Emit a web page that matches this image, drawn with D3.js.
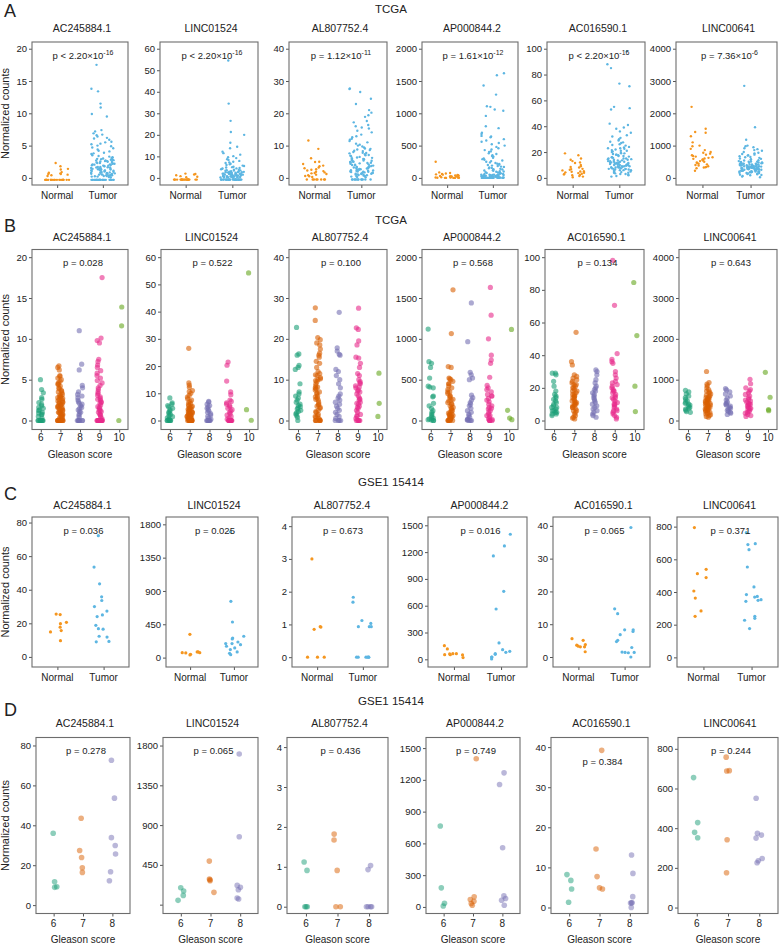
<!DOCTYPE html>
<html><head><meta charset="utf-8">
<script src="https://cdn.jsdelivr.net/npm/d3@7"></script>
<style>body{margin:0;background:#fff}text{font-family:"Liberation Sans",Arial,sans-serif;fill:#222}</style>
</head><body><svg id="c" width="783" height="944"></svg>
<script>
const genes = ["AC245884.1","LINC01524","AL807752.4","AP000844.2","AC016590.1","LINC00641"];
const groupsNT = ["Normal","Tumor"];
const gleasonTCGA = ["6","7","8","9","10"];
const gleasonGSE = ["6","7","8"];
const rowTitles = ["TCGA","TCGA","GSE1 15414","GSE1 15414"];
const panelLetters = ["A","B","C","D"];
const pA = [["<","2.20","-16"],["<","2.20","-16"],["=","1.12","-11"],["=","1.61","-12"],["<","2.20","-16"],["=","7.36","-6"]];
const pB = ["0.028","0.522","0.100","0.568","0.134","0.643"];
const pC = ["0.036","0.025","0.673","0.016","0.065","0.371"];
const pD = ["0.278","0.065","0.436","0.749","0.384","0.244"];
const ticksTCGA = [[0,5,10,15,20],[0,10,20,30,40,50,60],[0,10,20,30,40],[0,500,1000,1500,2000],[0,20,40,60,80,100],[0,1000,2000,3000,4000]];
const ticksGSE = [[0,20,40,60,80],[0,450,900,1350,1800],[0,1,2,3,4],[0,300,600,900,1200,1500],[0,10,20,30,40],[0,200,400,600,800]];
const tickLabelsD2 = ["","450","900","1350","1800"];
const domainC = [[-6,83.3],[-127,1899],[-0.3,4.28],[-86,1593],[-3.05,42.7],[-59,859]];
const domainD = [[-4.2,84],[-100,1891],[-0.17,4.24],[-62,1600],[-1.5,42.4],[-30,857]];

// Row A: TCGA normal vs tumor
const tcgaNormal = [
 [2.3,1.8,1.4,1.3,0.9,0.8,0.7,0.6,0.6,0.5,0.4,0.3,-.3,-.3,-.3,-.3,-.3,-.3,-.3,-.3,-.3,-.3,-.3,-.3,-.3,-.3,-.3,-.3,-.3,-.3,-.3,-.3,-.3,-.3,-.3],
 [2.0,1.8,1.6,1.2,0.8,0.5,0.3,-.8,-.8,-.8,-.8,-.8,-.8,-.8,-.8,-.8,-.8,-.8,-.8,-.8,-.8,-.8,-.8,-.8,-.8,-.8,-.8,-.8,-.8,-.8,-.8],
 [11.6,9.0,6.1,5.0,4.9,4.3,3.8,3.6,3.2,3.0,2.7,2.5,2.3,2.1,1.9,1.7,1.5,1.4,1.2,1.0,0.8,0.6,0.5,0.3,-.5,-.5,-.5,-.5,-.5,-.5,-.5,-.5],
 [250,85,75,68,62,55,50,46,42,38,34,30,27,24,21,18,15,13,11,9,7,5,4,3,2,1,0,0,0,0],
 [19,17.5,15,14,13,12,11.5,10,9,8.5,8,7,6.8,6.3,5.8,5.2,5,4.8,4.3,4,3.7,3.2,3,2.7,2.3,2,1.5,1,0.5],
 [2200,1520,1420,1400,1290,1100,1000,980,900,860,800,780,750,720,700,680,660,640,620,600,590,570,560,540,520,500,480,460,440,420,400,380,360,340,330,320,300,220]
];
const tcgaTumor = [
 [17.5,13.8,13.4,11.5,10.9,9.9,9.5,7.4,7.2,6.9,6.7,6.6,6.4,6.2,6.1,5.9,5.6,5.5,5.3,5.2,5.0,4.9,4.7,4.6,4.4,4.2,4.1,3.9,3.8,3.7,3.5,3.4,3.3,3.2,3.1,3.0,2.95,2.9,2.8,2.75,2.7,2.6,2.55,2.5,2.45,2.4,2.3,2.25,2.2,2.1,2.05,2.0,1.95,1.9,1.85,1.8,1.7,1.65,1.6,1.55,1.5,1.45,1.4,1.35,1.3,1.25,1.2,1.15,1.1,1.05,1.0,0.95,0.9,0.85,0.8,0.75,0.7,0.65,0.6,0.55,0.5,0.45,0.4,0.35,0.3,0.25,0.2,0.15,0.1,2.6,2.3,1.9,1.6,1.2,0.9,0.6,0.4,2.8,2.1,1.4,0.8,0.3,3.1,2.7,1.7,1.1,0.7,0.2,0.5,1.3,2.2,-.3,-.3,-.3,-.3,-.3,-.3,-.3,-.3,-.3,-.3,-.3,-.3,-.3,-.3,-.3,-.3,-.3,-.3,-.3,-.3,-.3,-.3,-.3,-.3,-.3,-.3,-.3,-.3,-.3,-.3],
 [54.5,34.5,26.5,21.3,20.0,16.3,14.5,13.8,12.2,11.5,10.8,10.1,9.6,9.2,8.7,8.3,7.9,7.5,7.2,6.9,6.6,6.3,6.0,5.7,5.5,5.2,5.0,4.8,4.6,4.4,4.2,4.0,3.8,3.6,3.5,3.3,3.1,3.0,2.8,2.7,2.6,2.5,2.4,2.3,2.2,2.1,2.0,1.9,1.8,1.7,1.6,1.5,1.4,1.3,1.2,1.1,1.0,0.9,0.8,0.7,0.6,0.5,0.45,0.4,0.35,0.3,0.25,0.2,0.15,0.1,3.4,2.9,2.4,1.9,1.5,1.1,0.8,0.5,0.3,4.4,3.7,2.6,1.6,1.0,0.6,-.8,-.8,-.8,-.8,-.8,-.8,-.8,-.8,-.8,-.8,-.8,-.8,-.8,-.8,-.8,-.8,-.8,-.8,-.8,-.8,-.8,-.8,-.8,-.8,-.8,-.8,-.8,-.8,-.8,-.8,-.8,-.8,-.8,-.8,-.8],
 [27.7,27.5,26.6,24.5,22.9,21.0,20.2,19.4,18.9,17.6,17.2,16.4,16.0,15.6,15.3,14.6,14.1,13.4,12.9,12.6,12.1,11.8,11.4,11.0,10.6,10.3,10.0,9.7,9.4,9.1,8.8,8.6,8.3,8.0,7.8,7.6,7.3,7.1,6.9,6.7,6.5,6.3,6.1,5.9,5.7,5.5,5.3,5.1,4.9,4.7,4.5,4.4,4.2,4.0,3.9,3.7,3.6,3.4,3.3,3.1,3.0,2.9,2.7,2.6,2.5,2.4,2.3,2.2,2.1,2.0,1.9,1.8,1.7,1.6,1.5,1.4,1.3,1.2,1.1,1.0,0.9,0.8,0.7,0.6,0.5,0.4,0.3,0.2,8.4,7.0,5.8,4.8,3.8,2.8,1.9,1.0,6.2,5.0,3.5,2.4,1.3,9.0,4.1,2.0,7.7,5.4,3.2,1.6,4.6,2.5,-.5,-.5,-.5,-.5,-.5,-.5,-.5,-.5,-.5,-.5,-.5,-.5],
 [1620,1590,1430,1290,1110,1100,1060,1040,960,800,770,700,680,650,640,630,600,580,560,540,520,500,480,460,440,430,410,400,380,370,350,340,330,310,300,290,280,270,260,250,240,230,220,215,205,200,190,185,175,170,160,155,150,140,135,130,120,115,110,105,100,95,90,85,80,75,70,65,60,55,50,48,45,42,40,38,35,32,30,28,25,22,20,18,16,14,12,10,8,6,5,4,3,2,1,0,0,0,0,0,0,0,0,0,0,60,45,30,20,10,5,2,0,0,0,50,35,25,15,8,3,1,0,0,0,0,0,0],
 [98,88,85,73,71,55,54,53,42,41,39,38,36,35,33,32,31,30,29,28,27.5,27,26,25.5,25,24,23.5,23,22.5,22,21.5,21,20.5,20,19.5,19,18.5,18,17.5,17,16.5,16,15.5,15,14.5,14,13.5,13,12.5,12,11.5,11,10.5,10,9.5,9,8.5,8,7.5,7,6.5,6,5.5,5,4.5,4,3.5,3,2.5,2,1.5,1,16,14,12,10,8,6,4,15,13,11,9,7,5,3,14.5,12.5,10.5,8.5,6.5,11,9,7,13,10,8,6,12,9.5,17,19,21,23,18,15,12,9,11.5,8.2,6.8,13.6,10.8,7.4],
 [2850,1570,1180,1000,980,950,920,890,860,840,800,780,760,740,720,700,690,670,650,640,620,600,590,580,560,550,540,520,510,500,490,480,470,460,450,440,430,420,410,400,390,380,370,360,350,340,330,320,310,300,290,280,270,260,250,240,230,220,210,200,190,180,170,160,150,140,130,120,110,100,90,80,60,40,20,500,450,400,350,300,250,200,150,480,420,360,300,240,180,460,380,320,260,200,440,340,280,220,410,310,230,360,330,270,390,290,350,250,430,190]
];
// Row B: TCGA by Gleason score
const tcgaG6 = [
 [5.0,3.8,3.4,2.8,2.6,2.2,2.0,1.8,1.6,1.5,1.3,1.2,1.0,0.9,0.8,0.7,0.5,0.3,0,0,0,0,0,0,0,0],
 [8.3,6.5,6.0,5.5,5.0,4.5,4.0,3.5,3.0,2.6,2.2,1.8,1.4,1.0,0.6,0.3,0,0,0,0,0,0],
 [22.8,16.3,16.0,13.5,13.0,12.5,9.0,7.0,6.5,6.0,5.5,5.0,4.5,4.0,3.7,3.4,3.1,2.8,2.5,2.2,1.9,1.6,1.2,0.8,0],
 [1120,720,700,650,520,420,410,400,300,290,210,180,150,120,100,80,60,40,30,20,10,5,0,0],
 [29,29,28,24,21,18,16,15,14,13,12,11,10,9,8,8,7,6,6,5,5,4,4,3],
 [740,700,650,600,560,520,480,450,420,400,380,350,320,300,280,250,220,200]
];
const tcgaG7 = [
 [6.7,6.5,6.2,5.5,5.4,5.2,5.0,4.8,4.6,4.4,4.2,4.0,3.9,3.7,3.5,3.4,3.2,3.0,2.9,2.8,2.6,2.5,2.4,2.3,2.2,2.1,2.0,1.9,1.8,1.7,1.6,1.5,1.4,1.3,1.2,1.1,1.0,0.9,0.8,0.7,0.6,0.5,0.4,0.3,0.2,0.1,3.1,2.7,2.2,1.6,1.0,0.5,4.5,3.6,2.8,1.9,1.3,0.7,0,0,0,0,0,0,0,0,0,0,0,0,0,0],
 [26.5,13.8,13.0,12.2,11.0,10.6,10.0,9.2,8.6,8.0,7.5,7.0,6.6,6.2,5.8,5.4,5.0,4.7,4.4,4.1,3.8,3.5,3.2,3.0,2.8,2.6,2.4,2.2,2.0,1.8,1.6,1.4,1.2,1.0,0.8,0.6,0.4,0.2,5.2,4.2,3.3,2.5,1.7,1.0,0.5,0,0,0,0,0,0,0,0,0,0,0,0],
 [27.6,24.5,20.3,19.8,19.0,18.5,17.5,16.5,16.0,15.5,14.5,14.0,13.0,12.0,11.5,11.0,10.5,10.0,9.5,9.0,8.5,8.0,7.5,7.0,6.5,6.0,5.5,5.0,4.5,4.0,3.5,3.0,2.5,2.0,1.5,1.0,0.5,0.2,11.2,9.8,8.2,6.8,5.2,3.8,2.2,0.8,10.2,7.8,5.8,3.2,1.2,0,0,0,0,0,0],
 [1600,1065,660,650,520,510,500,480,450,420,400,380,350,330,300,280,260,240,220,200,180,160,140,120,100,90,80,70,60,50,40,30,20,10,5,0,0,0,0,450,350,250,150,80,40,0,300,200,120,60,20],
 [54,36,34,28,27,26,25,24,23,22,21,20,19,18,17,16,15,14,13,12,11,10,9,8,7,6,5,4,3,2,1.5,1,20,18,15,12,9,6,22,16,11,8,14,10],
 [1200,930,890,850,800,760,720,700,680,650,620,600,580,560,540,520,500,480,460,440,420,400,380,360,340,320,300,280,260,240,220,200,180,160,140,120,100,80,550,450,350,250,500,400,300]
];
const tcgaG8 = [
 [11.0,6.9,6.2,4.3,4.0,3.5,3.2,3.0,2.8,2.5,2.3,2.1,2.0,1.8,1.6,1.5,1.3,1.1,1.0,0.8,0.6,0.4,0,0,0,0,0,0,0],
 [7.0,6.8,6.0,5.5,5.0,4.5,4.0,3.5,3.0,2.5,2.0,1.5,1.0,0.5,0,0,0,0,0,0],
 [26.5,17.8,17.0,16.2,16.0,12.5,12.0,11.0,10.0,9.0,8.0,6.5,6.0,5.5,5.0,4.5,4.0,3.5,3.0,2.5,2.0,1.5,1.0,0.5,0,0,0,0],
 [1440,965,590,560,520,500,310,280,250,220,200,180,150,120,100,80,60,40,20,10,5,0,0,0],
 [31,30,28,25,23,21,20,19,18,17,16,15,14,13,12,11,10,9,8,7,6,5,4,3,2],
 [780,750,700,650,600,550,500,450,420,400,380,350,320,300,280,250,220,200,180,150]
];
const tcgaG9 = [
 [17.5,10.1,9.8,9.5,7.5,7.2,6.8,6.5,6.1,5.8,5.5,5.2,4.9,4.6,4.3,4.0,3.8,3.5,3.3,3.1,2.9,2.7,2.5,2.3,2.1,1.9,1.7,1.5,1.3,1.1,1.0,0.8,0.6,0.4,0.2,2.6,2.2,1.6,1.2,0.7,0,0,0,0,0,0,0,0,0,0,0,0],
 [21.5,20.3,14.5,10.5,9.5,7.5,7.0,6.5,6.0,5.5,5.0,4.5,4.0,3.5,3.0,2.5,2.0,1.5,1.0,0.5,0,0,0,0,0,0,0,0,0],
 [27.5,22.7,22.3,19.5,18.5,15.5,15.3,14.0,13.0,11.5,11.0,10.0,9.5,9.0,8.5,8.0,7.5,7.0,6.5,6.0,5.5,5.0,4.5,4.0,3.5,3.0,2.5,2.0,1.5,1.0,0.5,9.2,7.2,5.2,3.2,1.2,8.2,4.2,0,0,0,0,0],
 [1630,1290,1000,800,740,700,530,430,400,380,350,320,300,270,250,230,200,180,160,140,120,100,80,60,40,20,10,0,0,0,0,300,150,60],
 [98,70.5,41,37.5,36,35,30,28,26,24,23,22,21,20,19,18,17,16,15,14,13,12,11,10,9,8,7,6,5,4,3,2,1,18,14,10,6],
 [1010,900,800,760,720,680,640,600,560,520,480,450,420,400,380,350,320,300,280,250,220,200,180,150,120,100,500,400,300]
];
const tcgaG10 = [[13.9,11.6,0],[54.2,4.0,0.1],[11.6,4.2,1.0],[1115,125,30,10],[84.5,52,21,5.5],[1180,570,270,240]];
// Row C: GSE normal vs tumor
const gseNormal = [
 [25.5,25.2,20.6,19.8,15.7,14.9,17.7,9.7],
 [315,76,76,67,63,67,45,36],
 [3.0,0.93,0.85,0.92,0,0,0],
 [153,116,63,63,60,52,52,49,19],
 [5.6,5.1,3.8,3.6,3.3,3.1,3.1,1.6],
 [794,539,512,488,406,363,284,251]
];
const gseTumor = [
 [72.2,53.5,43.5,35.8,33.6,30,27.3,25,24,18.8,16.5,16.8,12.3,11.8,9,9.2],
 [1700,760,481,265,288,252,211,189,189,153,175,130,108,76,58,40],
 [1.83,1.68,1.12,1.03,0.93,0.93,0.93,0,0,0,0,0,0],
 [1400,1269,1157,761,563,183,108,90,63,56,78,26,26,4],
 [39.5,14.7,13.2,8.3,7.8,6.8,8.3,5.1,4.7,2.9,1.3,1.5,1.4,1.4,0],
 [763,696,690,659,553,431,384,373,369,353,343,349,239,227,251,176]
];
// Row D: GSE by Gleason score
const gseG6 = [[36,11.7,9.2,8.9],[192,154,105,49],[1.12,0.91,0,0,0],[764,180,35,9],[8.2,6.75,4.6,1.3],[655,428,379,352]];
const gseG7 = [[43.5,27.4,23.9,18.7,16.4],[493,290,282,271,139],[1.82,1.67,0.91,0,0],[1399,95,70,54,32,16],[39.2,14.6,7.7,4.9,4.6],[758,690,688,342,175]];
const gseG8 = [[72.6,53.6,33.8,29.9,25.6,16.7,12.2],[1705,768,218,196,169,75,64],[1.03,0.93,0,0,0,0],[1266,1156,559,104,79,63,16],[13.1,8.5,2.7,1.2,1.1,1.2,0],[551,374,365,350,247,236,226]];

const ntColors = ["#f5961f","#5db6e2"];
const dark2 = ["#1b9e77","#d95f02","#7570b3","#e7298a","#66a61e"];

const svg = d3.select("#c");

// deterministic horizontal jitter (position only)
function jitter(i,gi,pi){
  const s=Math.sin((i+1)*12.9898+(gi+1)*78.233+(pi+1)*37.719)*43758.5453;
  return (s-Math.floor(s))-0.5;
}

const rows = [
 {top:42,bottom:185,lefts:[32,160,289,422,547,676],rights:[128,258,387,518,645,777],titleY:32,pY:58.5,xlabY:199,xtitleY:null,rowTitleY:13,letterY:17,
  cats:groupsNT, series:genes.map((g,i)=>[tcgaNormal[i],tcgaTumor[i]]), colors:ntColors, r:1.2, op:1, jit:12, pad:0.55,
  dom:i=>{const T=d3.max(ticksTCGA[i]);return [-0.055*T,1.052*T];}, ticks:i=>ticksTCGA[i], labels:null, p:i=>pA[i]},
 {top:249.5,bottom:429.5,lefts:[32,161,289,422,545,679],rights:[128,258,387,518,644,777],titleY:241,pY:266,xlabY:441,xtitleY:458,rowTitleY:224,letterY:232,
  cats:gleasonTCGA, series:genes.map((g,i)=>[tcgaG6[i],tcgaG7[i],tcgaG8[i],tcgaG9[i],tcgaG10[i]]), colors:dark2, r:2.6, op:0.6, jit:2.8, pad:0.45,
  dom:i=>{const T=d3.max(ticksTCGA[i]);return [-0.055*T,1.047*T];}, ticks:i=>ticksTCGA[i], labels:null, p:i=>"p = "+pB[i]},
 {top:517,bottom:667,lefts:[32,166,292,428,553,677],rights:[129,258,388,527,650,778],titleY:509,pY:533.5,xlabY:680.5,xtitleY:null,rowTitleY:486,letterY:500,
  cats:groupsNT, series:genes.map((g,i)=>[gseNormal[i],gseTumor[i]]), colors:ntColors, r:1.6, op:1, jit:10, pad:0.55,
  dom:i=>domainC[i], ticks:i=>ticksGSE[i], labels:null, p:i=>"p = "+pC[i]},
 {top:737.5,bottom:913.5,lefts:[36,163,287,426,551,678],rights:[130,258,388,520,648,778],titleY:727,pY:753.5,xlabY:927,xtitleY:943,rowTitleY:705,letterY:716,
  cats:gleasonGSE, series:genes.map((g,i)=>[gseG6[i],gseG7[i],gseG8[i]]), colors:dark2, r:2.8, op:0.5, jit:3.5, pad:0.6,
  dom:i=>domainD[i], ticks:i=>ticksGSE[i], labels:i=>i===1?tickLabelsD2:null, p:i=>"p = "+pD[i]}
];

rows.forEach((row,ri)=>{
  svg.append("text").attr("x",4).attr("y",row.letterY).attr("font-size",18).text(panelLetters[ri]);
  svg.append("text").attr("x",391).attr("y",row.rowTitleY).attr("text-anchor","middle").attr("font-size",11.5).text(rowTitles[ri]);
  genes.forEach((gene,pi)=>{
    const x0=row.lefts[pi], x1=row.rights[pi];
    const g=svg.append("g");
    const y=d3.scaleLinear().domain(row.dom(pi)).range([row.bottom,row.top]);
    const x=d3.scalePoint().domain(row.cats).range([x0,x1]).padding(row.pad);
    const tv=row.ticks(pi), tl=row.labels?row.labels(pi):null;
    const ya=d3.axisLeft(y).tickValues(tv).tickSize(3).tickPadding(2)
      .tickFormat((d,k)=>tl?tl[k]:d3.format("d")(d));
    const yg=g.append("g").attr("transform",`translate(${x0},0)`).call(ya);
    yg.select(".domain").remove();
    yg.selectAll("line").attr("stroke","#555");
    yg.selectAll("text").attr("font-size",9.5).attr("fill","#333").style("font-family","Liberation Sans, Arial, sans-serif");
    const xa=d3.axisBottom(x).tickSize(3).tickPadding(2);
    const xg=g.append("g").attr("transform",`translate(0,${row.bottom})`).call(xa);
    xg.select(".domain").remove();
    xg.selectAll("line").attr("stroke","#555");
    xg.selectAll("text").remove();
    row.cats.forEach(c=>{
      g.append("text").attr("x",x(c)).attr("y",row.xlabY).attr("text-anchor","middle").attr("font-size",10).attr("fill","#222").text(c);
    });
    row.series[pi].forEach((vals,gi)=>{
      g.append("g").selectAll("circle").data(vals).join("circle")
        .attr("cx",(d,i)=>x(row.cats[gi])+jitter(i,gi,pi)*2*row.jit)
        .attr("cy",d=>y(d)).attr("r",row.r)
        .attr("fill",row.colors[gi]).attr("fill-opacity",row.op);
    });
    g.append("rect").attr("x",x0).attr("y",row.top).attr("width",x1-x0).attr("height",row.bottom-row.top)
      .attr("fill","none").attr("stroke","#6d6d6d").attr("stroke-width",1.1);
    g.append("text").attr("x",(x0+x1)/2+2).attr("y",row.titleY).attr("text-anchor","middle").attr("font-size",10.5).text(gene);
    const pv=row.p(pi);
    let py=row.pY; if(ri===3&&pi===4) py=765;
    const pt=g.append("text").attr("x",(x0+x1)/2+3).attr("y",py).attr("text-anchor","middle").attr("font-size",9.5);
    if(Array.isArray(pv)){
      pt.append("tspan").text(`p ${pv[0]} ${pv[1]}×10`);
      pt.append("tspan").attr("dy",-4).attr("font-size",7).text(pv[2]);
    } else pt.text(pv);
    if(pi===0){
      svg.append("text").attr("transform",`translate(9,${(row.top+row.bottom)/2}) rotate(-90)`)
        .attr("text-anchor","middle").attr("font-size",11).text("Normalized counts");
    }
    if(row.xtitleY){
      g.append("text").attr("x",(x0+x1)/2).attr("y",row.xtitleY).attr("text-anchor","middle").attr("font-size",10).text("Gleason score");
    }
  });
});
</script></body></html>
